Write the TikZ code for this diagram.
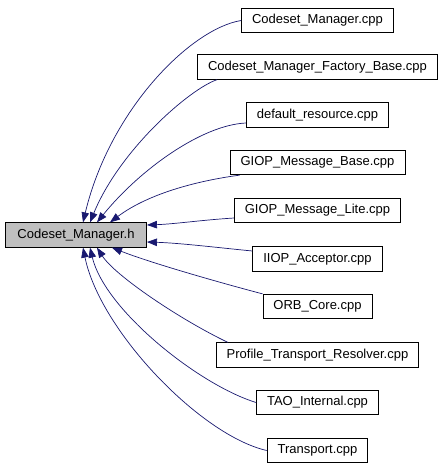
\documentclass[tikz,border=0pt]{standalone}
\usepackage{fontspec}
\setmainfont{Liberation Sans}
\usetikzlibrary{arrows.meta}

\definecolor{edgeblue}{RGB}{25,25,112}
\definecolor{headgray}{RGB}{191,191,191}

\begin{document}
\begin{tikzpicture}[x=1pt,y=-1pt,
    file/.style={draw=black,line width=0.8pt,font=\fontsize{13}{15}\selectfont,
      minimum height=24.5pt,inner xsep=10.5pt,inner ysep=0pt},
    incl/.style={-{Triangle[length=10pt,width=7.5pt]},edgeblue,line width=0.7pt}]
  \useasboundingbox (0,0) rectangle (445,467);

  % Header file
  \node[file,fill=headgray,inner xsep=12pt] (hdr) at (76,235) {Codeset\_Manager.h};

  % Files that include it
  \node[file] (mgr) at (317.5,20.5) {Codeset\_Manager.cpp};
  \node[file] (fac) at (317.5,67) {Codeset\_Manager\_Factory\_Base.cpp};
  \node[file] (res) at (317.5,115) {default\_resource.cpp};
  \node[file] (gbase) at (317.5,162.5) {GIOP\_Message\_Base.cpp};
  \node[file] (glite) at (317.5,210.5) {GIOP\_Message\_Lite.cpp};
  \node[file] (iiop) at (317.5,259) {IIOP\_Acceptor.cpp};
  \node[file] (orb) at (317.5,306.5) {ORB\_Core.cpp};
  \node[file] (ptr) at (317.5,355) {Profile\_Transport\_Resolver.cpp};
  \node[file] (tao) at (317.5,402.5) {TAO\_Internal.cpp};
  \node[file] (trp) at (317.5,450.5) {Transport.cpp};

  % Include edges
  \draw[incl] (mgr.west) .. controls +(-50,8) and +(27,-113) .. ([xshift=7pt]hdr.north);
  \draw[incl] ([xshift=20pt]fac.south west) .. controls +(-27,9) and +(30,-73) .. ([xshift=14pt]hdr.north);
  \draw[incl] ([yshift=-8pt]res.west) .. controls +(-44,2) and +(43,-53) .. ([xshift=21pt]hdr.north);
  \draw[incl] ([xshift=10pt]gbase.south west) .. controls +(-38,5) and +(40,-30) .. ([xshift=34pt]hdr.north);
  \draw[incl] ([yshift=-7.5pt]glite.west) .. controls +(-32,2) and +(28,-1) .. ([yshift=10pt]hdr.east);
  \draw[incl] ([yshift=8pt]iiop.west) .. controls +(-31,-3) and +(33,1) .. ([yshift=-7pt]hdr.east);
  \draw[incl] (orb.north west) .. controls +(-42,-11) and +(38,15) .. ([xshift=36pt]hdr.south);
  \draw[incl] ([xshift=12pt]ptr.north west) .. controls +(-48,-23) and +(18,28) .. ([xshift=21pt]hdr.south);
  \draw[incl] (tao.west) .. controls +(-56,-17) and +(15,63) .. ([xshift=14pt]hdr.south);
  \draw[incl] (trp.west) .. controls +(-66,-15) and +(17,83) .. ([xshift=7pt]hdr.south);
\end{tikzpicture}
\end{document}
